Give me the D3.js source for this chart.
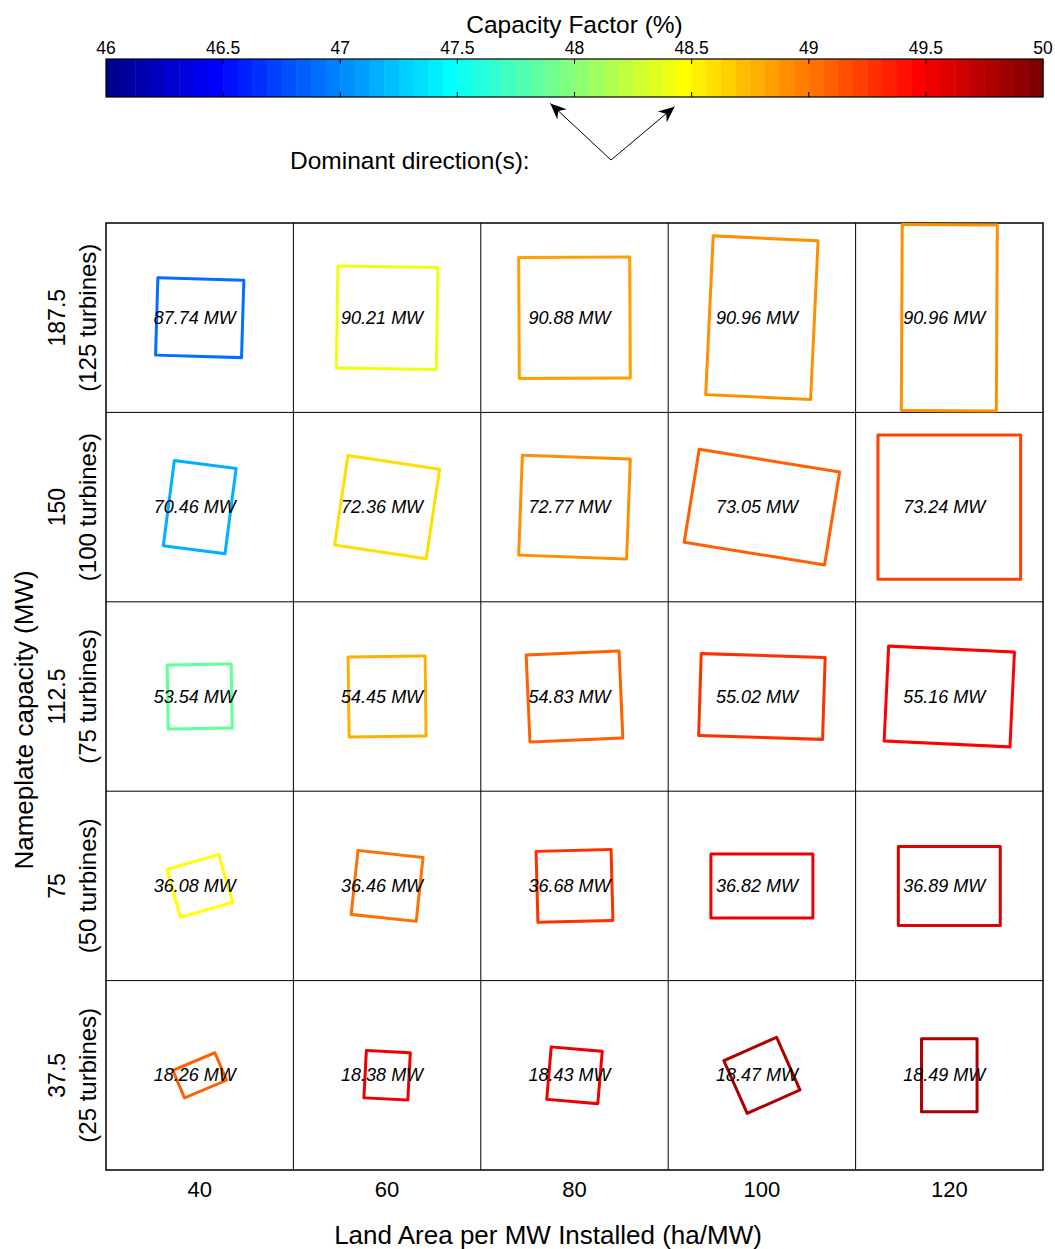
<!DOCTYPE html>
<html>
<head>
<meta charset="utf-8">
<script src="https://cdn.jsdelivr.net/npm/d3@7"></script>
<style>
  body { margin: 0; background: #fff; }
  text { font-family: "Liberation Sans", Arial, Helvetica, sans-serif; fill: #000; }
</style>
</head>
<body>
<script>
var w = 1055;
var h = 1249;

// land area per MW (columns) and nameplate capacity (rows, top to bottom)
var areas = [40, 60, 80, 100, 120];
var capacities = [187.5, 150, 112.5, 75, 37.5];
var turbines = [125, 100, 75, 50, 25];

// power output label per cell
var powerMW = [
  [87.74, 90.21, 90.88, 90.96, 90.96],
  [70.46, 72.36, 72.77, 73.05, 73.24],
  [53.54, 54.45, 54.83, 55.02, 55.16],
  [36.08, 36.46, 36.68, 36.82, 36.89],
  [18.26, 18.38, 18.43, 18.47, 18.49]
];

// capacity factor (%)
var capFactor = [
  [46.90, 48.43, 48.87, 48.88, 48.88],
  [47.17, 48.60, 48.88, 49.08, 49.23],
  [47.83, 48.75, 49.12, 49.31, 49.44],
  [48.45, 49.00, 49.25, 49.50, 49.62],
  [49.08, 49.50, 49.56, 49.75, 49.80]
];

// farm footprint: width, height (km) and rotation (deg)
var rectWidth = [
  [9.15, 10.64, 11.81, 11.17, 10.11],
  [6.62, 9.86, 11.49, 15.13, 15.18],
  [6.81, 8.19, 9.89, 13.19, 13.40],
  [5.76, 6.96, 7.98, 10.85, 10.85],
  [4.85, 4.68, 5.45, 6.14, 5.91]
];
var rectHeight = [
  [8.23, 10.85, 12.87, 16.91, 19.79],
  [9.14, 9.64, 10.64, 10.02, 15.35],
  [6.81, 8.51, 9.26, 8.72, 10.11],
  [5.29, 6.84, 7.55, 6.81, 8.40],
  [3.17, 5.04, 5.59, 6.13, 7.77]
];
var rectAngle = [
  [1.7, 0.9, -0.3, 2.7, 0.3],
  [7.4, 8.5, 2.1, 9.2, 0],
  [-1, -0.7, -2.5, 1.8, 2.7],
  [-16.1, 6.1, -1.5, 0, 0],
  [-22.8, 3, 4.9, -23.9, 0]
];

var cbTicks = [46, 46.5, 47, 47.5, 48, 48.5, 49, 49.5, 50];
var directions = [313, 50]; // compass bearings of the dominant winds

// MATLAB jet(m)
function jet(m) {
  var n = Math.ceil(m / 4);
  var u = [];
  for (var i = 1; i <= n; i++) u.push(i / n);
  for (var i = 0; i < n - 1; i++) u.push(1);
  for (var i = n; i >= 1; i--) u.push(i / n);
  var g0 = Math.ceil(n / 2) - (m % 4 == 1 ? 1 : 0);
  var cols = [];
  for (var k = 1; k <= m; k++) cols.push([0, 0, 0]);
  for (var j = 1; j <= u.length; j++) {
    var g = g0 + j, r = g + n, b = g - n;
    if (r >= 1 && r <= m) cols[r - 1][0] = u[j - 1];
    if (g >= 1 && g <= m) cols[g - 1][1] = u[j - 1];
    if (b >= 1 && b <= m) cols[b - 1][2] = u[j - 1];
  }
  return cols.map(c => d3.rgb(c[0] * 255, c[1] * 255, c[2] * 255).formatHex());
}
var cmap = jet(64);
var cmin = 46, cmax = 50;
function colorOf(v) {
  var i = Math.floor((v - cmin) / (cmax - cmin) * cmap.length);
  return cmap[Math.max(0, Math.min(cmap.length - 1, i))];
}

var svg = d3.select('body').append('svg')
  .attr('width', w)
  .attr('height', h);

var gl = 106, gr = 1043, gt = 223, gb = 1170;

var x = d3.scaleBand().domain(areas).range([gl, gr]);
var y = d3.scaleBand().domain(capacities).range([gt, gb]);
var km = d3.scaleLinear().domain([0, 1]).range([0, 9.4]);

// ---- colorbar
var cx = d3.scaleLinear().domain([cmin, cmax]).range([gl, gr]);
var cbTop = 59, cbBot = 97;
var step = (cmax - cmin) / cmap.length;

svg.append('g').selectAll('rect')
  .data(cmap)
  .join('rect')
  .attr('x', (c, i) => cx(cmin + i * step))
  .attr('y', cbTop)
  .attr('width', (c, i) => cx(cmin + (i + 1) * step) - cx(cmin + i * step) + 0.5)
  .attr('height', cbBot - cbTop)
  .attr('fill', c => c);

svg.append('rect')
  .attr('x', gl).attr('y', cbTop)
  .attr('width', gr - gl).attr('height', cbBot - cbTop)
  .attr('fill', 'none').attr('stroke', '#000').attr('stroke-width', 1.2);

var inner = cbTicks.slice(1, -1);
svg.append('g').selectAll('path')
  .data(inner)
  .join('path')
  .attr('d', d => `M ${cx(d)} ${cbTop} v 5 M ${cx(d)} ${cbBot} v -5`)
  .attr('stroke', '#000').attr('stroke-width', 1);

svg.append('g').selectAll('text')
  .data(cbTicks)
  .join('text')
  .attr('x', d => cx(d))
  .attr('y', 54)
  .attr('text-anchor', 'middle')
  .style('font-size', '17.5px')
  .text(d => d);

svg.append('text')
  .attr('x', cx(48))
  .attr('y', 33)
  .attr('text-anchor', 'middle')
  .style('font-size', '24.5px')
  .text('Capacity Factor (%)');

// ---- dominant directions
var ax = 611, ay = 160, alen = 83;
svg.append('text')
  .attr('x', 290)
  .attr('y', 169)
  .style('font-size', '24.5px')
  .text('Dominant direction(s):');

directions.forEach(function(dir) {
  var a = dir * Math.PI / 180;
  var ex = ax + alen * Math.sin(a);
  var ey = ay - alen * Math.cos(a);
  svg.append('line')
    .attr('x1', ax).attr('y1', ay)
    .attr('x2', ex).attr('y2', ey)
    .attr('stroke', '#000').attr('stroke-width', 1);
  svg.append('path')
    .attr('d', 'M 0 0 L -16 -7 L -11 0 L -16 7 Z')
    .attr('fill', '#000')
    .attr('transform', `translate(${ex},${ey}) rotate(${dir - 90})`);
});

// ---- grid cells
var cells = [];
capacities.forEach(function(c, r) {
  areas.forEach(function(a, k) {
    cells.push({
      area: a, cap: c,
      p: powerMW[r][k], cf: capFactor[r][k],
      w: rectWidth[r][k], h: rectHeight[r][k], ang: rectAngle[r][k]
    });
  });
});

var grid = svg.append('g');
grid.selectAll('line.v')
  .data(areas.slice(1))
  .join('line')
  .attr('class', 'v')
  .attr('x1', d => x(d)).attr('x2', d => x(d))
  .attr('y1', gt).attr('y2', gb)
  .attr('stroke', '#000').attr('stroke-width', 1);
grid.selectAll('line.h')
  .data(capacities.slice(1))
  .join('line')
  .attr('class', 'h')
  .attr('x1', gl).attr('x2', gr)
  .attr('y1', d => y(d)).attr('y2', d => y(d))
  .attr('stroke', '#000').attr('stroke-width', 1);
grid.append('rect')
  .attr('x', gl).attr('y', gt)
  .attr('width', gr - gl).attr('height', gb - gt)
  .attr('fill', 'none').attr('stroke', '#000').attr('stroke-width', 1.5);

var cg = svg.append('g').selectAll('g')
  .data(cells)
  .join('g')
  .attr('transform', d => `translate(${x(d.area) + x.bandwidth() / 2},${y(d.cap) + y.bandwidth() / 2})`);

cg.append('rect')
  .attr('x', d => -km(d.w) / 2)
  .attr('y', d => -km(d.h) / 2)
  .attr('width', d => km(d.w))
  .attr('height', d => km(d.h))
  .attr('transform', d => `rotate(${d.ang})`)
  .attr('fill', 'none')
  .attr('stroke', d => colorOf(d.cf))
  .attr('stroke-width', 3)
  .attr('stroke-linejoin', 'round');

cg.append('text')
  .attr('x', -5)
  .attr('y', 6)
  .attr('text-anchor', 'middle')
  .style('font-size', '18px')
  .style('font-style', 'italic')
  .text(d => d.p.toFixed(2) + ' MW');

// ---- axes labels
svg.append('g').selectAll('text')
  .data(areas)
  .join('text')
  .attr('x', d => x(d) + x.bandwidth() / 2)
  .attr('y', 1197)
  .attr('text-anchor', 'middle')
  .style('font-size', '22px')
  .text(d => d);

svg.append('text')
  .attr('x', 548)
  .attr('y', 1244)
  .attr('text-anchor', 'middle')
  .style('font-size', '26px')
  .text('Land Area per MW Installed (ha/MW)');

var yl = svg.append('g').selectAll('g')
  .data(capacities)
  .join('g')
  .attr('transform', d => `translate(0,${y(d) + y.bandwidth() / 2})`);
yl.append('text')
  .attr('transform', 'translate(65,0) rotate(-90)')
  .attr('text-anchor', 'middle')
  .style('font-size', '23px')
  .text(d => d);
yl.append('text')
  .attr('transform', 'translate(96,0) rotate(-90)')
  .attr('text-anchor', 'middle')
  .style('font-size', '24px')
  .text((d, i) => '(' + turbines[i] + ' turbines)');

svg.append('text')
  .attr('transform', 'translate(33,720) rotate(-90)')
  .attr('text-anchor', 'middle')
  .style('font-size', '26px')
  .text('Nameplate capacity (MW)');
</script>
</body>
</html>
